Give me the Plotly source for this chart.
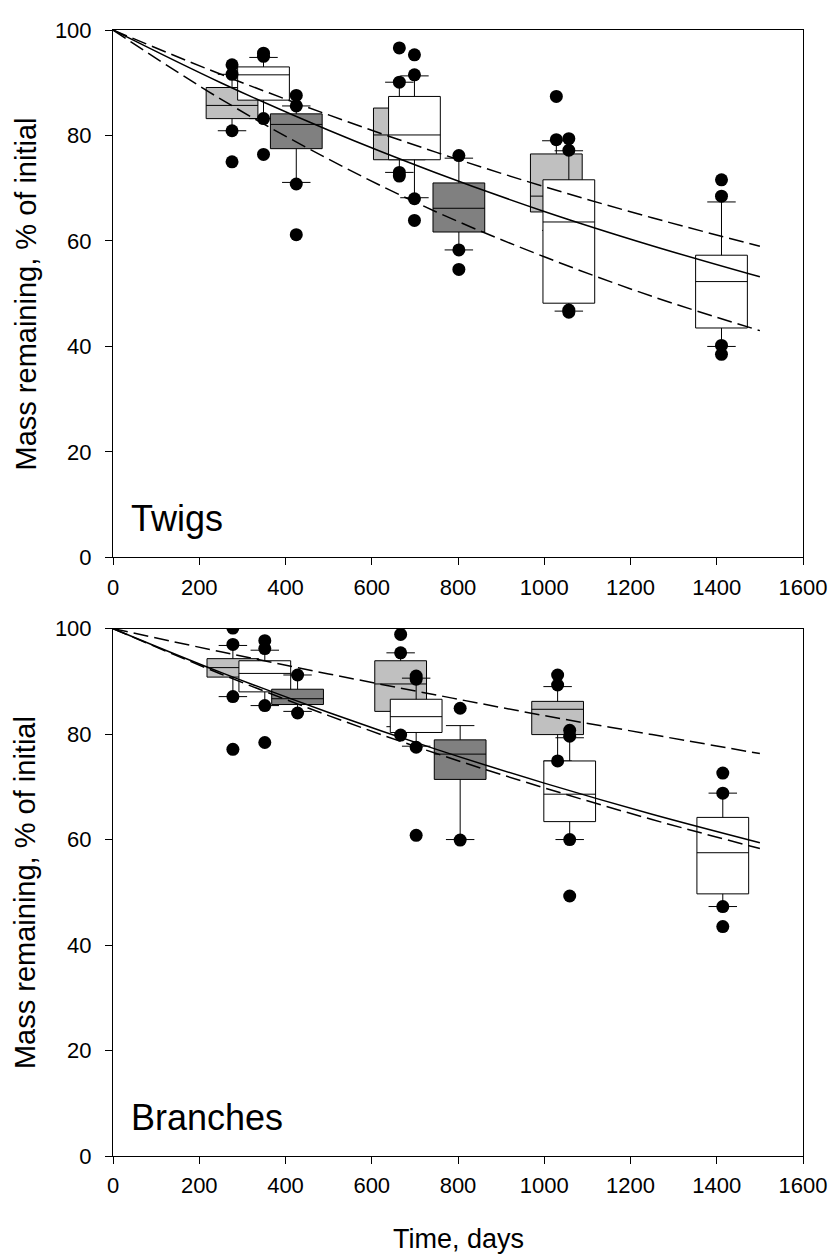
import plotly.graph_objects as go

# ---------------- data: Twigs (top panel) ----------------
twig_grey_x = [276, 664, 1028]
twig_grey_q1 = [83.2, 75.4, 65.5]
twig_grey_med = [85.7, 80.1, 68.5]
twig_grey_q3 = [89.1, 85.2, 76.5]
twig_grey_lo = [80.9, 73.0, 62.0]
twig_grey_hi = [91.6, 90.1, 79.0]
twig_grey_out_x = [276, 276, 276, 276, 664, 664, 664, 664, 1028, 1028]
twig_grey_out_y = [93.4, 91.6, 80.9, 75.0, 96.6, 90.1, 73.0, 72.3, 87.4, 79.2]

twig_white_x = [349, 699, 1057, 1411]
twig_white_q1 = [86.7, 75.4, 48.2, 43.5]
twig_white_med = [91.5, 80.1, 63.6, 52.3]
twig_white_q3 = [93.0, 87.4, 71.6, 57.3]
twig_white_lo = [83.2, 68.2, 46.7, 40.0]
twig_white_hi = [94.8, 91.3, 77.1, 67.4]
twig_white_out_x = [349, 349, 349, 349, 699, 699, 699, 699,
                    1057, 1057, 1057, 1057, 1411, 1411, 1411, 1411]
twig_white_out_y = [95.6, 95.0, 83.2, 76.4, 95.3, 91.5, 68.0, 63.9,
                    79.4, 77.2, 46.9, 46.5, 71.6, 68.5, 40.2, 38.5]

twig_dark_x = [425, 802]
twig_dark_q1 = [77.5, 61.7]
twig_dark_med = [82.1, 66.2]
twig_dark_q3 = [84.1, 71.0]
twig_dark_lo = [71.1, 58.3]
twig_dark_hi = [85.6, 75.7]
twig_dark_out_x = [425, 425, 425, 425, 802, 802, 802]
twig_dark_out_y = [87.6, 85.6, 70.8, 61.2, 76.2, 58.3, 54.6]

# fitted curves
curve_days = [0, 250, 500, 750, 1000, 1250, 1500]
twig_fit = [100, 90.0, 81.0, 72.9, 65.6, 59.1, 53.2]
twig_upper = [100, 91.6, 83.9, 76.8, 70.3, 64.4, 59.0]
twig_lower = [100, 86.9, 75.5, 65.5, 57.0, 49.5, 43.0]

# ---------------- data: Branches (bottom panel) ----------------
br_grey_x = [278, 667, 1031]
br_grey_q1 = [90.8, 84.3, 79.9]
br_grey_med = [92.6, 89.5, 84.7]
br_grey_q3 = [94.3, 93.9, 86.2]
br_grey_lo = [87.1, 81.4, 74.9]
br_grey_hi = [96.8, 95.4, 89.0]
br_grey_out_x = [278, 278, 278, 278, 667, 667, 667, 1031, 1031, 1031]
br_grey_out_y = [100.1, 97.0, 87.1, 77.1, 98.9, 95.4, 79.8, 91.2, 89.3, 74.9]

br_white_x = [352, 703, 1059, 1414]
br_white_q1 = [88.0, 80.3, 63.4, 49.7]
br_white_med = [91.5, 83.3, 68.6, 57.5]
br_white_q3 = [93.9, 86.6, 74.9, 64.2]
br_white_lo = [85.4, 77.7, 60.0, 47.3]
br_white_hi = [95.9, 90.6, 79.3, 68.8]
br_white_out_x = [352, 352, 352, 352, 703, 703, 703, 703,
                  1059, 1059, 1059, 1059, 1414, 1414, 1414, 1414]
br_white_out_y = [97.7, 96.2, 85.4, 78.4, 91.0, 90.4, 77.5, 60.8,
                  80.7, 79.6, 60.0, 49.3, 72.6, 68.8, 47.3, 43.5]

br_dark_x = [428, 805]
br_dark_q1 = [85.6, 71.4]
br_dark_med = [86.7, 76.2]
br_dark_q3 = [88.5, 78.9]
br_dark_lo = [84.3, 60.0]
br_dark_hi = [91.2, 81.6]
br_dark_out_x = [428, 428, 805, 805]
br_dark_out_y = [91.2, 84.0, 84.9, 59.9]

br_fit = [100, 91.7, 84.1, 77.1, 70.7, 64.8, 59.4]
br_upper = [100, 95.6, 91.4, 87.4, 83.5, 79.9, 76.3]
br_lower = [100, 91.4, 83.5, 76.3, 69.8, 63.8, 58.3]

x_ticks = [0, 200, 400, 600, 800, 1000, 1200, 1400, 1600]
y_ticks = [0, 20, 40, 60, 80, 100]

GREY = "#c0c0c0"
WHITE = "#ffffff"
DARK = "#808080"
BOX_W = 120

fig = go.Figure()


def add_box(xs, q1, med, q3, lo, hi, fill, xa, ya):
    fig.add_trace(go.Box(
        x=xs, q1=q1, median=med, q3=q3, lowerfence=lo, upperfence=hi,
        width=BOX_W, whiskerwidth=0.55, fillcolor=fill,
        line=dict(color="black", width=1), boxpoints=False,
        xaxis=xa, yaxis=ya, showlegend=False, hoverinfo="skip"))


def add_dots(xs, ys, xa, ya):
    fig.add_trace(go.Scatter(
        x=xs, y=ys, mode="markers",
        marker=dict(color="black", size=13),
        xaxis=xa, yaxis=ya, showlegend=False, hoverinfo="skip"))


def add_curve(ys, dash, xa, ya):
    fig.add_trace(go.Scatter(
        x=curve_days, y=ys, mode="lines", line_shape="spline",
        line=dict(color="black", width=1.5, dash=dash),
        xaxis=xa, yaxis=ya, showlegend=False, hoverinfo="skip"))


# top panel
add_box(twig_grey_x, twig_grey_q1, twig_grey_med, twig_grey_q3, twig_grey_lo, twig_grey_hi, GREY, "x", "y")
add_box(twig_white_x, twig_white_q1, twig_white_med, twig_white_q3, twig_white_lo, twig_white_hi, WHITE, "x", "y")
add_box(twig_dark_x, twig_dark_q1, twig_dark_med, twig_dark_q3, twig_dark_lo, twig_dark_hi, DARK, "x", "y")
add_curve(twig_fit, "solid", "x", "y")
add_curve(twig_upper, "15px,6px", "x", "y")
add_curve(twig_lower, "15px,6px", "x", "y")
add_dots(twig_grey_out_x, twig_grey_out_y, "x", "y")
add_dots(twig_white_out_x, twig_white_out_y, "x", "y")
add_dots(twig_dark_out_x, twig_dark_out_y, "x", "y")

# bottom panel
add_box(br_grey_x, br_grey_q1, br_grey_med, br_grey_q3, br_grey_lo, br_grey_hi, GREY, "x2", "y2")
add_box(br_white_x, br_white_q1, br_white_med, br_white_q3, br_white_lo, br_white_hi, WHITE, "x2", "y2")
add_box(br_dark_x, br_dark_q1, br_dark_med, br_dark_q3, br_dark_lo, br_dark_hi, DARK, "x2", "y2")
add_curve(br_fit, "solid", "x2", "y2")
add_curve(br_upper, "15px,6px", "x2", "y2")
add_curve(br_lower, "15px,6px", "x2", "y2")
add_dots(br_grey_out_x, br_grey_out_y, "x2", "y2")
add_dots(br_white_out_x, br_white_out_y, "x2", "y2")
add_dots(br_dark_out_x, br_dark_out_y, "x2", "y2")

FONT = "Liberation Sans, Arial, sans-serif"
axis_common = dict(
    showline=True, linecolor="black", linewidth=1, mirror=True,
    ticks="outside", ticklen=7, tickwidth=1, tickcolor="black",
    showgrid=False, zeroline=False,
    tickfont=dict(family=FONT, size=22, color="black"),
)

# the page body has an 8px margin (top/left), so the figure is sized to end at the window edge
fig.update_layout(
    width=829, height=1251,
    margin=dict(l=105, r=28, t=10, b=103),
    paper_bgcolor="white", plot_bgcolor="white",
    boxmode="overlay", showlegend=False,
    font=dict(family=FONT, color="black"),
    xaxis=dict(range=[0, 1600], tickvals=x_ticks, anchor="y", ticklabelstandoff=3, **axis_common),
    yaxis=dict(range=[0, 100], tickvals=y_ticks, domain=[0.5316, 1.0], anchor="x",
               ticklabelstandoff=9, **axis_common),
    xaxis2=dict(range=[0, 1600], tickvals=x_ticks, anchor="y2", ticklabelstandoff=3, **axis_common),
    yaxis2=dict(range=[0, 100], tickvals=y_ticks, domain=[0.0, 0.4684], anchor="x2",
                ticklabelstandoff=9, **axis_common),
)

ann_font = dict(family=FONT, size=36, color="black")
fig.add_annotation(x=36, y=7.3, xref="x", yref="y", text="Twigs", showarrow=False,
                   xanchor="left", yanchor="middle", font=ann_font)
fig.add_annotation(x=36, y=7.3, xref="x2", yref="y2", text="Branches", showarrow=False,
                   xanchor="left", yanchor="middle", font=ann_font)
fig.add_annotation(x=-0.1264, y=(0.5316 + 1.0) / 2, xref="paper", yref="paper",
                   text="Mass remaining, % of initial", textangle=-90, showarrow=False,
                   xanchor="center", yanchor="middle",
                   font=dict(family=FONT, size=29, color="black"))
fig.add_annotation(x=-0.1264, y=0.4684 / 2, xref="paper", yref="paper",
                   text="Mass remaining, % of initial", textangle=-90, showarrow=False,
                   xanchor="center", yanchor="middle",
                   font=dict(family=FONT, size=29, color="black"))
fig.add_annotation(x=0.5, y=-0.0738, xref="paper", yref="paper",
                   text="Time, days", showarrow=False,
                   xanchor="center", yanchor="middle",
                   font=dict(family=FONT, size=27, color="black"))

fig.write_html("out.html")
